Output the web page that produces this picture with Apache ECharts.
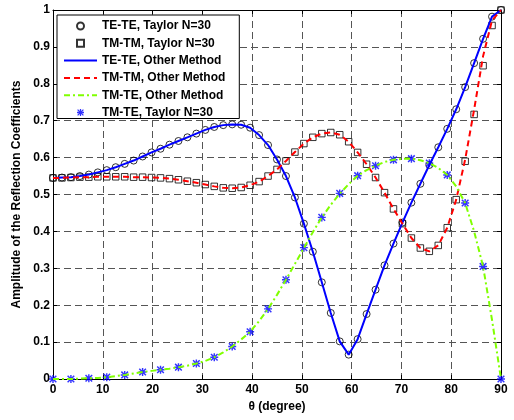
<!DOCTYPE html>
<html>
<head>
<meta charset="utf-8">
<script src="https://cdn.jsdelivr.net/npm/echarts@6/dist/echarts.min.js"></script>
<style>
html,body{margin:0;padding:0;background:#fff;}
#chart{width:514px;height:420px;}
</style>
</head>
<body>
<div id="chart"></div>
<script>
// x positions (degrees)
var xFine = [0,1.8,3.6,5.4,7.2,9,10.8,12.6,14.4,16.2,18,19.8,21.6,23.4,25.2,27,28.8,30.6,32.4,34.2,36,37.8,39.6,41.4,43.2,45,46.8,48.6,50.4,52.2,54,55.8,57.6,59.4,61.2,63,64.8,66.6,68.4,70.2,72,73.8,75.6,77.4,79.2,81,82.8,84.6,86.4,88.2,90];
var xCoarse = [0,3.6,7.2,10.8,14.4,18,21.6,25.2,28.8,32.4,36,39.6,43.2,46.8,50.4,54,57.6,61.2,64.8,68.4,72,75.6,79.2,82.8,86.4,90];

// TE-TE, Taylor N=30 (circles)
var teteTaylor = [0.545,0.546,0.547,0.550,0.554,0.560,0.566,0.574,0.583,0.592,0.603,0.614,0.624,0.635,0.645,0.655,0.665,0.675,0.683,0.688,0.690,0.689,0.681,0.661,0.634,0.595,0.550,0.492,0.421,0.345,0.262,0.179,0.102,0.066,0.108,0.176,0.242,0.308,0.367,0.424,0.478,0.529,0.580,0.628,0.678,0.731,0.791,0.856,0.922,0.982,1.000];
// TM-TM, Taylor N=30 (squares)
var tmtmTaylor = [0.545,0.545,0.546,0.547,0.547,0.548,0.548,0.548,0.548,0.547,0.547,0.546,0.545,0.543,0.540,0.536,0.532,0.527,0.522,0.518,0.517,0.519,0.525,0.535,0.550,0.568,0.591,0.615,0.638,0.655,0.665,0.668,0.662,0.643,0.614,0.582,0.546,0.505,0.461,0.421,0.382,0.355,0.346,0.362,0.410,0.486,0.590,0.717,0.849,0.958,1.000];
// TE-TE, Other Method (solid blue)
var teteOther = [0.545,0.546,0.547,0.550,0.554,0.560,0.566,0.574,0.583,0.592,0.603,0.614,0.624,0.635,0.645,0.655,0.665,0.675,0.683,0.688,0.690,0.689,0.681,0.661,0.634,0.595,0.550,0.492,0.421,0.345,0.262,0.179,0.102,0.066,0.108,0.176,0.242,0.308,0.367,0.424,0.478,0.529,0.580,0.628,0.678,0.731,0.791,0.856,0.922,0.982,1.000];
// TM-TM, Other Method (dashed red)
var tmtmOther = [0.545,0.545,0.546,0.547,0.547,0.548,0.548,0.548,0.548,0.547,0.547,0.546,0.545,0.543,0.540,0.536,0.532,0.527,0.522,0.518,0.517,0.519,0.525,0.535,0.550,0.568,0.591,0.615,0.638,0.655,0.665,0.668,0.662,0.643,0.614,0.582,0.546,0.505,0.461,0.421,0.382,0.355,0.346,0.362,0.410,0.486,0.595,0.730,0.875,0.972,1.000];
// TM-TE, Other Method (dash-dot green)
var tmteOther = [0.000,0.000,0.000,0.001,0.002,0.003,0.005,0.008,0.011,0.015,0.019,0.022,0.025,0.028,0.032,0.036,0.042,0.049,0.059,0.072,0.088,0.107,0.128,0.157,0.190,0.228,0.269,0.312,0.355,0.398,0.438,0.472,0.502,0.528,0.551,0.566,0.578,0.588,0.594,0.597,0.597,0.593,0.585,0.572,0.553,0.522,0.477,0.400,0.305,0.160,0.000];
// TM-TE, Taylor N=30 (blue stars)
var tmteTaylor = [0.000,0.000,0.002,0.005,0.011,0.019,0.025,0.032,0.042,0.059,0.088,0.128,0.190,0.269,0.356,0.438,0.503,0.551,0.578,0.594,0.597,0.585,0.553,0.477,0.305,0.000];

var seriesNames = ['TE-TE, Taylor N=30','TM-TM, Taylor N=30','TE-TE, Other Method','TM-TM, Other Method','TM-TE, Other Method','TM-TE, Taylor N=30'];
var xTicks = [0,10,20,30,40,50,60,70,80,90];

function zip(xs, ys){ return xs.map(function(x,i){ return [x, ys[i]]; }); }

var FONT = "'Liberation Sans', Arial, sans-serif";
var starPath = 'path://M4.1 0H5.9V10H4.1Z M0 4.1H10V5.9H0Z M1.5 0.2L9.8 8.5L8.5 9.8L0.2 1.5Z M8.5 0.2L9.8 1.5L1.5 9.8L0.2 8.5Z';
var squarePath = 'path://M0 0H10V10H0Z';

var chart = echarts.init(document.getElementById('chart'), null, {renderer:'canvas'});
var gridLine = {show:true, lineStyle:{color:'#555', width:1, type:[7,4]}};
var tick = {show:true, inside:true, length:4, lineStyle:{color:'#000'}};
var axLine = {show:true, onZero:false, lineStyle:{color:'#000', width:1}};
var lbl = {color:'#000', fontSize:12, fontWeight:'bold', fontFamily:FONT};
var hideSym = {color:'rgba(0,0,0,0)', borderColor:'rgba(0,0,0,0)', borderWidth:0, opacity:0};

chart.setOption({
  animation:false,
  backgroundColor:'#fff',
  grid:{left:53, right:13, top:10, bottom:41, containLabel:false},
  legend:{
    orient:'vertical', left:57, top:15,
    backgroundColor:'#fff', borderColor:'#000', borderWidth:1,
    padding:[5,14,0,6], itemGap:5.3, itemWidth:33, itemHeight:7,
    textStyle:{color:'#000', fontSize:12, fontWeight:'bold', fontFamily:FONT, lineHeight:12},
    data:[
      {name:seriesNames[0]},
      {name:seriesNames[1], icon:squarePath},
      {name:seriesNames[2], itemStyle:hideSym},
      {name:seriesNames[3], itemStyle:hideSym},
      {name:seriesNames[4], itemStyle:hideSym},
      {name:seriesNames[5]}
    ]
  },
  xAxis:[{
    type:'value', min:0, max:90, interval:10, position:'bottom',
    name:'θ (degree)', nameLocation:'middle', nameGap:20,
    nameTextStyle:{color:'#000', fontSize:12, fontWeight:'bold', fontFamily:FONT},
    axisLine:axLine, axisTick:tick, splitLine:gridLine,
    axisLabel:Object.assign({margin:5}, lbl)
  },{
    type:'value', min:0, max:90, interval:10, position:'top',
    axisLine:axLine, axisTick:tick, splitLine:{show:false}, axisLabel:{show:false}
  }],
  yAxis:[{
    type:'value', min:0, max:1, interval:0.1, position:'left',
    name:'Amplitude of the Reflection Coefficients', nameLocation:'middle', nameGap:25,
    nameTextStyle:{color:'#000', fontSize:12, fontWeight:'bold', fontFamily:FONT},
    axisLine:axLine, axisTick:tick, splitLine:gridLine,
    axisLabel:Object.assign({margin:3}, lbl)
  },{
    type:'value', min:0, max:1, interval:0.1, position:'right',
    axisLine:axLine, axisTick:tick, splitLine:{show:false}, axisLabel:{show:false}
  }],
  series:[
    {name:seriesNames[0], type:'scatter', data:zip(xFine, teteTaylor), symbol:'circle', symbolSize:7,
     itemStyle:{color:'rgba(0,0,0,0)', borderColor:'#000', borderWidth:1}},
    {name:seriesNames[1], type:'scatter', data:zip(xFine, tmtmTaylor), symbol:'rect', symbolSize:6.5,
     itemStyle:{color:'rgba(0,0,0,0)', borderColor:'#000', borderWidth:1}},
    {name:seriesNames[2], type:'line', data:zip(xFine, teteOther), symbol:'none', showSymbol:false,
     lineStyle:{color:'#0000ff', width:2}, itemStyle:{color:'#0000ff'}},
    {name:seriesNames[3], type:'line', data:zip(xFine, tmtmOther), symbol:'none', showSymbol:false,
     lineStyle:{color:'#ff0000', width:2, type:[6,4]}, itemStyle:{color:'#ff0000'}},
    {name:seriesNames[4], type:'line', data:zip(xFine, tmteOther), symbol:'none', showSymbol:false,
     lineStyle:{color:'#80ff00', width:2, type:[6,3,2,3]}, itemStyle:{color:'#80ff00'}},
    {name:seriesNames[5], type:'scatter', data:zip(xCoarse, tmteTaylor), symbol:starPath, symbolSize:8,
     itemStyle:{color:'#0000ff'}}
  ]
});
</script>
</body>
</html>
